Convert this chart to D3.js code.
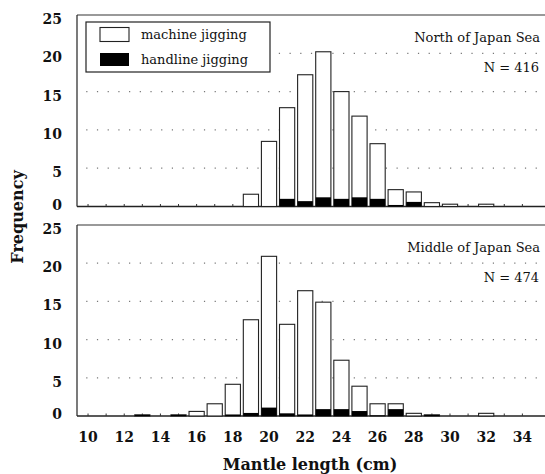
<!DOCTYPE html>
<html>
<head>
<meta charset="utf-8">
<script src="https://cdn.jsdelivr.net/npm/d3@7"></script>
<style>
  body { margin: 0; background: #fff; }
  svg { display: block; }
  .tick-label { font-family: "DejaVu Serif", serif; font-size: 14px; font-weight: bold; fill: #111; }
  .note { font-family: "DejaVu Serif", serif; font-size: 13px; fill: #111; }
</style>
</head>
<body>
<div id="chart"></div>
<script>
// mantle length classes (cm)
var lengthCm = [10, 11, 12, 13, 14, 15, 16, 17, 18, 19, 20, 21, 22, 23, 24, 25, 26, 27, 28, 29, 30, 31, 32, 33, 34];

// North of Japan Sea : bar totals and handline part (frequency %)
var northTotal    = [0, 0, 0, 0, 0, 0, 0, 0, 0, 1.6, 8.5, 12.9, 17.2, 20.2, 15.0, 11.8, 8.2, 2.2, 1.9, 0.5, 0.3, 0, 0.3, 0, 0];
var northHandline = [0, 0, 0, 0, 0, 0, 0, 0, 0, 0, 0, 1.0, 0.7, 1.2, 1.0, 1.2, 1.0, 0.2, 0.6, 0, 0, 0, 0, 0, 0];

// Middle of Japan Sea
var middleTotal    = [0, 0, 0, 0.15, 0, 0.15, 0.6, 1.6, 4.15, 12.6, 20.9, 12.0, 16.4, 14.9, 7.3, 3.9, 1.6, 1.6, 0.35, 0.15, 0, 0, 0.35, 0, 0];
var middleHandline = [0, 0, 0, 0.15, 0, 0.15, 0, 0, 0.2, 0.4, 1.1, 0.35, 0.2, 0.9, 0.9, 0.65, 0.1, 0.9, 0, 0.15, 0, 0, 0, 0, 0];

var xTicks = [10, 12, 14, 16, 18, 20, 22, 24, 26, 28, 30, 32, 34];
var yTicks = [0, 5, 10, 15, 20, 25];
var gridVals = [5, 10, 15, 20];

var W = 545, H = 474;
var svg = d3.select("#chart").append("svg").attr("width", W).attr("height", H);

var x = d3.scaleLinear().domain([9.39, 35.25]).range([77, 545]);
var half = 0.42;

function panel(top, bottom, total, hand, title, nLabel) {
  var y = d3.scaleLinear().domain([0, 25]).range([bottom, top]);
  var g = svg.append("g");

  // dotted grid
  g.selectAll(".grid").data(gridVals).enter().append("line")
    .attr("x1", x(9.9)).attr("x2", 545)
    .attr("y1", function (d) { return y(d); }).attr("y2", function (d) { return y(d); })
    .attr("stroke", "#777").attr("stroke-width", 1.2)
    .attr("stroke-dasharray", "1.2,9.5");

  // frame: top (grey), left, baseline
  g.append("line").attr("x1", 77).attr("x2", 545).attr("y1", top).attr("y2", top)
    .attr("stroke", "#777").attr("stroke-width", 1.3);
  g.append("line").attr("x1", 77).attr("x2", 77).attr("y1", top).attr("y2", bottom)
    .attr("stroke", "#222").attr("stroke-width", 1.2);
  g.append("line").attr("x1", 77).attr("x2", 545).attr("y1", bottom).attr("y2", bottom)
    .attr("stroke", "#222").attr("stroke-width", 1.3);

  // minor ticks on baseline
  g.selectAll(".mt").data(lengthCm).enter().append("line")
    .attr("x1", function (d) { return x(d); }).attr("x2", function (d) { return x(d); })
    .attr("y1", bottom).attr("y2", bottom - 2.5)
    .attr("stroke", "#333").attr("stroke-width", 1);

  var rows = lengthCm.map(function (v, i) { return { v: v, t: total[i], h: hand[i] }; })
    .filter(function (d) { return d.t > 0; });

  // white bars (total)
  g.selectAll(".bar").data(rows).enter().append("rect")
    .attr("x", function (d) { return x(d.v - half); })
    .attr("width", function (d) { return x(d.v + half) - x(d.v - half); })
    .attr("y", function (d) { return y(d.t); })
    .attr("height", function (d) { return bottom - y(d.t); })
    .attr("fill", "#fff").attr("stroke", "#222").attr("stroke-width", 1.1);

  // black part (handline)
  g.selectAll(".hbar").data(rows.filter(function (d) { return d.h > 0; })).enter().append("rect")
    .attr("x", function (d) { return x(d.v - half); })
    .attr("width", function (d) { return x(d.v + half) - x(d.v - half); })
    .attr("y", function (d) { return y(d.h); })
    .attr("height", function (d) { return bottom - y(d.h); })
    .attr("fill", "#000");

  // y tick labels
  g.selectAll(".yl").data(yTicks).enter().append("text")
    .attr("class", "tick-label")
    .attr("x", 62).attr("y", function (d) { return y(d) + (d === 0 ? 3 : 9); })
    .attr("text-anchor", "end")
    .text(function (d) { return d; });

  g.append("text").attr("class", "note").attr("x", 540).attr("y", top + 27)
    .attr("text-anchor", "end").text(title);
  g.append("text").attr("class", "note").attr("x", 539).attr("y", top + 57)
    .attr("text-anchor", "end").text(nLabel);
  return g;
}

panel(15, 206.5, northTotal, northHandline, "North of Japan Sea", "N = 416");
panel(225, 416, middleTotal, middleHandline, "Middle of Japan Sea", "N = 474");

// legend
var lg = svg.append("g");
lg.append("rect").attr("x", 86).attr("y", 22).attr("width", 184).attr("height", 50)
  .attr("fill", "#fff").attr("stroke", "#222").attr("stroke-width", 1.2);
lg.append("rect").attr("x", 100).attr("y", 27.5).attr("width", 29).attr("height", 14)
  .attr("fill", "#fff").attr("stroke", "#222").attr("stroke-width", 1.1);
lg.append("rect").attr("x", 100).attr("y", 53).attr("width", 29).attr("height", 13)
  .attr("fill", "#000");
lg.append("text").attr("class", "note").attr("x", 141).attr("y", 39).text("machine jigging");
lg.append("text").attr("class", "note").attr("x", 141).attr("y", 64).text("handline jigging");

// x tick labels
svg.selectAll(".xl").data(xTicks).enter().append("text")
  .attr("class", "tick-label")
  .attr("x", function (d) { return x(d); }).attr("y", 442)
  .attr("text-anchor", "middle")
  .text(function (d) { return d; });

// axis titles
svg.append("text").attr("x", 310).attr("y", 470)
  .attr("text-anchor", "middle")
  .style("font-family", "DejaVu Serif, serif").style("font-size", "16px").style("font-weight", "bold")
  .attr("fill", "#111")
  .text("Mantle length (cm)");

svg.append("text").attr("transform", "translate(23,217) rotate(-90)")
  .attr("text-anchor", "middle")
  .style("font-family", "DejaVu Serif, serif").style("font-size", "16px").style("font-weight", "bold")
  .attr("fill", "#111")
  .text("Frequency");
</script>
</body>
</html>
